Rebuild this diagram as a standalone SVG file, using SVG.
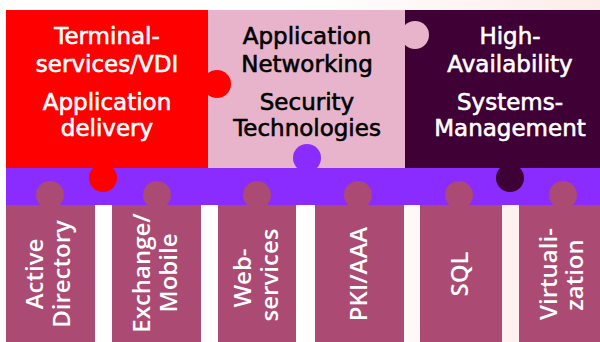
<svg xmlns="http://www.w3.org/2000/svg" width="600" height="342" viewBox="0 0 600 342">
  <defs>
    <linearGradient id="bg" x1="0" y1="0" x2="1" y2="0">
      <stop offset="0" stop-color="#ffffff"/>
      <stop offset="0.5" stop-color="#ffffff"/>
      <stop offset="1" stop-color="#fdecea"/>
    </linearGradient>
    <style>
      .top { font-family: "DejaVu Sans", sans-serif; font-size: 23px; text-anchor: middle; stroke-width: 0.6px; }
      .w { fill: #ffffff; stroke: #ffffff; }
      .k { fill: #000000; stroke: #000000; }
      .col { fill: #ab4a72; }
      .ct { font-family: "Open Sans", "DejaVu Sans", sans-serif; font-size: 24px; font-weight: 600; fill: #ffffff; text-anchor: middle; }
    </style>
  </defs>
  <rect x="0" y="0" width="600" height="342" fill="url(#bg)"/>

  <g id="columns">
    <g id="col-ad">
      <rect class="col" x="6" y="200" width="89" height="142"/>
      <circle class="col" cx="50" cy="195" r="14"/>
      <text class="ct" transform="translate(43,274) rotate(-90)">Active</text>
      <text class="ct" transform="translate(70,274) rotate(-90)">Directory</text>
    </g>
    <g id="col-ex">
      <rect class="col" x="112" y="200" width="89" height="142"/>
      <circle class="col" cx="157" cy="195" r="14"/>
      <text class="ct" transform="translate(150,273) rotate(-90)">Exchange/</text>
      <text class="ct" transform="translate(177,273) rotate(-90)">Mobile</text>
    </g>
    <g id="col-web">
      <rect class="col" x="218" y="200" width="78" height="142"/>
      <circle class="col" cx="257" cy="195" r="14"/>
      <text class="ct" transform="translate(251,278) rotate(-90)">Web-</text>
      <text class="ct" transform="translate(278,275) rotate(-90)">services</text>
    </g>
    <g id="col-pki">
      <rect class="col" x="315" y="200" width="89" height="142"/>
      <circle class="col" cx="358" cy="195" r="14"/>
      <text class="ct" transform="translate(367,274) rotate(-90)">PKI/AAA</text>
    </g>
    <g id="col-sql">
      <rect class="col" x="420" y="200" width="82" height="142"/>
      <circle class="col" cx="459" cy="195" r="14"/>
      <text class="ct" transform="translate(468,274) rotate(-90)">SQL</text>
    </g>
    <g id="col-virt">
      <rect class="col" x="519" y="200" width="81" height="142"/>
      <circle class="col" cx="563" cy="195" r="14"/>
      <text class="ct" transform="translate(557,274) rotate(-90)">Virtuali-</text>
      <text class="ct" transform="translate(583,275) rotate(-90)">zation</text>
    </g>
  </g>

  <g id="bar">
    <rect x="6" y="168" width="594" height="37" fill="#8a2bff"/>
    <circle cx="50" cy="195" r="14" fill="#ab4a72"/>
    <circle cx="157" cy="195" r="14" fill="#ab4a72"/>
    <circle cx="257" cy="195" r="14" fill="#ab4a72"/>
    <circle cx="358" cy="195" r="14" fill="#ab4a72"/>
    <circle cx="459" cy="195" r="14" fill="#ab4a72"/>
    <circle cx="563" cy="195" r="14" fill="#ab4a72"/>
  </g>

  <g id="block-pink">
    <rect x="208" y="10" width="197" height="158" fill="#e8b4cc"/>
    <circle cx="307" cy="158" r="14" fill="#8a2bff"/>
    <text class="top k" x="307" y="44">Application</text>
    <text class="top k" x="307" y="72">Networking</text>
    <text class="top k" x="307" y="110">Security</text>
    <text class="top k" x="307" y="136">Technologies</text>
  </g>

  <g id="block-dark">
    <rect x="405" y="10" width="195" height="158" fill="#3f0035"/>
    <circle cx="415" cy="35" r="14" fill="#e8b4cc"/>
    <circle cx="510" cy="178" r="14" fill="#3f0035"/>
    <text class="top w" x="510" y="44">High-</text>
    <text class="top w" x="510" y="72">Availability</text>
    <text class="top w" x="510" y="110">Systems-</text>
    <text class="top w" x="510" y="136">Management</text>
  </g>

  <g id="block-red">
    <rect x="6" y="10" width="202" height="158" fill="#ff0000"/>
    <circle cx="217" cy="84" r="14" fill="#ff0000"/>
    <circle cx="103" cy="178" r="14" fill="#ff0000"/>
    <text class="top w" x="107" y="44">Terminal-</text>
    <text class="top w" x="107" y="72">services/VDI</text>
    <text class="top w" x="107" y="110">Application</text>
    <text class="top w" x="107" y="136">delivery</text>
  </g>
</svg>
